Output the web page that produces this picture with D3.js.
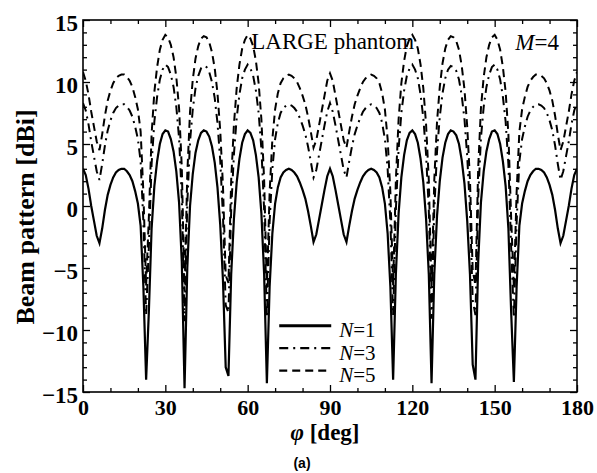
<!DOCTYPE html>
<html>
<head>
<meta charset="utf-8">
<script src="https://cdn.jsdelivr.net/npm/d3@7"></script>
<style>
  body { margin: 0; background: #fff; }
  svg { display: block; }
  .tick text { font-family: "Liberation Serif", serif; font-weight: bold; font-size: 23px; fill: #000; }
  .xaxis .tick text { font-size: 22px; }
  .domain { display: none; }
  .tick line { stroke: #000; stroke-width: 1.3; }
</style>
</head>
<body>
<div id="chart"></div>
<script>
// angle grid (deg), 1 deg steps
var phi = d3.range(0, 181);

var n1 = [3.0,2.5,1.4,0.0,-1.2,-2.4,-3.0,-1.8,-0.3,0.9,
  1.7,2.3,2.7,2.9,3.0,3.0,2.8,2.5,2.0,1.2,
  0.2,-1.6,-6.5,-14.0,-8.5,-1.8,1.6,3.6,5.0,5.8,
  6.1,6.0,5.4,4.4,2.8,0.3,-4.5,-14.7,-5.0,0.0,
  2.6,4.3,5.3,5.9,6.1,6.0,5.6,4.8,3.5,1.5,
  -1.5,-6.0,-13.0,-13.7,-5.5,-1.0,1.9,3.8,5.1,5.8,
  6.1,5.9,5.3,4.1,2.3,-0.6,-5.5,-14.3,-6.5,-2.2,
  0.2,1.5,2.3,2.7,2.9,3.0,2.9,2.7,2.4,1.9,
  1.3,0.6,-0.4,-1.6,-2.9,-2.3,-1.1,0.1,1.3,2.4,
  3.0,
  2.4,1.3,0.1,-1.1,-2.3,-2.9,-1.6,-0.4,0.6,
  1.3,1.9,2.4,2.7,2.9,3.0,2.9,2.7,2.3,1.5,
  0.2,-2.2,-6.5,-14.0,-5.5,-0.6,2.3,4.1,5.3,5.9,
  6.1,5.8,5.1,3.8,1.9,-1.0,-5.5,-14.3,-5.5,-0.8,
  2.0,3.9,5.1,5.8,6.1,6.0,5.7,5.0,3.7,1.8,
  -1.2,-5.5,-12.8,-14.0,-4.5,0.3,2.8,4.4,5.4,6.0,
  6.1,5.8,5.0,3.6,1.6,-1.8,-8.5,-14.2,-6.5,-1.6,
  0.2,1.2,2.0,2.5,2.8,3.0,3.0,2.9,2.7,2.3,
  1.7,0.9,-0.3,-1.8,-3.0,-2.4,-1.2,0.0,1.4,2.5,
  3.0];

var n3 = [8.3,7.7,6.6,5.2,4.0,2.8,2.1,3.4,4.9,6.1,
  6.9,7.5,7.9,8.1,8.2,8.2,8.0,7.7,7.2,6.4,
  5.4,3.6,-1.3,-8.8,-3.3,3.4,6.8,8.8,10.2,11.0,
  11.4,11.2,10.6,9.6,8.0,5.5,0.7,-9.3,0.2,5.2,
  7.8,9.5,10.5,11.1,11.3,11.2,10.8,10.0,8.7,6.7,
  3.7,-0.8,-8.0,-8.6,-0.3,4.2,7.1,9.0,10.3,11.0,
  11.4,11.1,10.5,9.3,7.5,4.6,-0.3,-9.0,-1.3,3.0,
  5.4,6.7,7.5,7.9,8.1,8.2,8.1,7.9,7.6,7.1,
  6.5,5.8,4.8,3.6,2.3,2.9,4.1,5.3,6.5,7.6,
  8.3,
  7.6,6.5,5.3,4.1,2.9,2.3,3.6,4.8,5.8,
  6.5,7.1,7.6,7.9,8.1,8.2,8.1,7.9,7.5,6.7,
  5.4,3.0,-1.3,-8.8,-0.3,4.6,7.5,9.3,10.5,11.1,
  11.4,11.0,10.3,9.0,7.1,4.2,-0.3,-9.1,-0.3,4.4,
  7.2,9.1,10.3,11.0,11.3,11.2,10.9,10.2,8.9,7.0,
  4.0,-0.3,-7.6,-8.8,0.7,5.5,8.0,9.6,10.6,11.2,
  11.4,11.0,10.2,8.8,6.8,3.4,-3.3,-9.0,-1.3,3.6,
  5.4,6.4,7.2,7.7,8.0,8.2,8.2,8.1,7.9,7.5,
  6.9,6.1,4.9,3.4,2.1,2.8,4.0,5.2,6.6,7.7,
  8.3];

var n5 = [10.8,10.1,9.0,7.6,6.4,5.2,4.5,5.8,7.3,8.5,
  9.3,9.9,10.3,10.5,10.6,10.6,10.4,10.1,9.6,8.8,
  7.8,6.0,1.1,-6.4,-0.9,5.8,9.2,11.2,12.6,13.4,
  13.8,13.6,13.0,12.0,10.4,7.9,3.1,-6.9,2.6,7.6,
  10.2,11.9,12.9,13.5,13.7,13.6,13.2,12.4,11.1,9.1,
  6.1,1.6,-5.6,-6.2,2.1,6.6,9.5,11.4,12.7,13.4,
  13.8,13.5,12.9,11.7,9.9,7.0,2.1,-6.6,1.1,5.4,
  7.8,9.1,9.9,10.3,10.5,10.6,10.5,10.3,10.0,9.5,
  8.9,8.2,7.2,6.0,4.7,5.3,6.5,7.7,8.9,10.1,
  10.7,
  10.1,8.9,7.7,6.5,5.3,4.7,6.0,7.2,8.2,
  8.9,9.5,10.0,10.3,10.5,10.6,10.5,10.3,9.9,9.1,
  7.8,5.4,1.1,-6.4,2.1,7.0,9.9,11.7,12.9,13.5,
  13.8,13.4,12.7,11.4,9.5,6.6,2.1,-6.7,2.1,6.8,
  9.6,11.5,12.7,13.4,13.7,13.6,13.3,12.6,11.3,9.4,
  6.4,2.1,-5.2,-6.4,3.1,7.9,10.4,12.0,13.0,13.6,
  13.8,13.4,12.6,11.2,9.2,5.8,-0.9,-6.6,1.1,6.0,
  7.8,8.8,9.6,10.1,10.4,10.6,10.6,10.5,10.3,9.9,
  9.3,8.5,7.3,5.8,4.5,5.2,6.4,7.6,9.0,10.1,
  10.8];

var seriesNames = ["N=1", "N=3", "N=5"];
var dashes = [null, "9,5,2,5", "8,5"];
var xTicks = [0, 30, 60, 90, 120, 150, 180];
var yTicks = [-15, -10, -5, 0, 5, 10, 15];

var W = 597, H = 473;
var margin = {top: 20, right: 20, bottom: 81, left: 83},
    width = W - margin.left - margin.right,
    height = H - margin.top - margin.bottom;

var svg = d3.select("#chart").append("svg")
    .attr("width", W)
    .attr("height", H);

var g = svg.append("g")
    .attr("transform", "translate(" + margin.left + "," + margin.top + ")");

var x = d3.scaleLinear().domain([0, 180]).range([0, width]);
var y = d3.scaleLinear().domain([-15, 15]).range([height, 0]);

g.append("clipPath").attr("id", "clip")
  .append("rect").attr("width", width).attr("height", height);

var line = d3.line()
    .x(function(d) { return x(d[0]); })
    .y(function(d) { return y(d[1]); });

var allSeries = [n1, n3, n5];
allSeries.forEach(function(vals, i) {
    g.append("path")
        .datum(phi.map(function(p, k) { return [p, vals[k]]; }))
        .attr("clip-path", "url(#clip)")
        .attr("fill", "none")
        .attr("stroke", "#000")
        .attr("stroke-width", i === 0 ? 2.2 : 2)
        .attr("stroke-linejoin", "miter")
        .attr("stroke-dasharray", dashes[i])
        .attr("d", line);
});

// axes, ticks pointing inward
var xMinor = d3.range(0, 181, 10).filter(function(v) { return v % 30 !== 0; });
var yMinor = d3.range(-15, 16, 1).filter(function(v) { return v % 5 !== 0; });

g.append("g").attr("class", "xaxis").attr("transform", "translate(0," + height + ")")
    .call(d3.axisBottom(x).tickValues(xTicks).tickSize(-7).tickPadding(7).tickFormat(d3.format("d")));
g.append("g").attr("transform", "translate(0," + height + ")")
    .call(d3.axisBottom(x).tickValues(xMinor).tickSize(-4).tickFormat(""));
g.append("g")
    .call(d3.axisTop(x).tickValues(xTicks).tickSize(-7).tickFormat(""));
g.append("g")
    .call(d3.axisTop(x).tickValues(xMinor).tickSize(-4).tickFormat(""));

g.append("g")
    .call(d3.axisLeft(y).tickValues(yTicks).tickSize(-7).tickPadding(5).tickFormat(d3.format("d")))
    .selectAll("text").attr("dy", "0.45em");
g.append("g")
    .call(d3.axisLeft(y).tickValues(yMinor).tickSize(-4).tickFormat(""));
g.append("g").attr("transform", "translate(" + width + ",0)")
    .call(d3.axisRight(y).tickValues(yTicks).tickSize(-7).tickFormat(""));
g.append("g").attr("transform", "translate(" + width + ",0)")
    .call(d3.axisRight(y).tickValues(yMinor).tickSize(-4).tickFormat(""));

g.append("rect")
    .attr("width", width).attr("height", height)
    .attr("fill", "none").attr("stroke", "#000").attr("stroke-width", 1.6);

// annotations
var serif = "'Liberation Serif', 'Times New Roman', serif";
g.append("text")
    .attr("x", x(61.3)).attr("y", y(12.66))
    .attr("font-family", serif).attr("font-size", 23)
    .text("LARGE phantom");

var mt = g.append("text")
    .attr("x", x(157.5)).attr("y", y(12.6))
    .attr("font-family", serif).attr("font-size", 23);
mt.append("tspan").attr("font-style", "italic").text("M");
mt.append("tspan").text("=4");

// legend
var legend = g.append("g").attr("transform", "translate(" + x(71.5) + "," + y(-9.65) + ")");
seriesNames.forEach(function(name, i) {
    var row = legend.append("g").attr("transform", "translate(0," + (i * 22.5) + ")");
    row.append("line")
        .attr("x1", 0).attr("x2", 52)
        .attr("stroke", "#000")
        .attr("stroke-width", i === 0 ? 3 : 2.4)
        .attr("stroke-dasharray", dashes[i]);
    var t = row.append("text")
        .attr("x", 60).attr("y", 11.5)
        .attr("font-family", serif).attr("font-size", 21);
    var parts = name.split("=");
    t.append("tspan").attr("font-style", "italic").text(parts[0]);
    t.append("tspan").text("=" + parts[1]);
});

// axis titles
svg.append("text")
    .attr("transform", "translate(34,217) rotate(-90)")
    .attr("text-anchor", "middle")
    .attr("font-family", serif).attr("font-weight", "bold").attr("font-size", 26)
    .text("Beam pattern [dBi]");

var xt = svg.append("text")
    .attr("x", margin.left + width / 2 - 5).attr("y", 440)
    .attr("text-anchor", "middle")
    .attr("font-family", serif).attr("font-weight", "bold").attr("font-size", 23);
xt.append("tspan").attr("font-style", "italic").text("φ");
xt.append("tspan").text(" [deg]");

svg.append("text")
    .attr("x", 302).attr("y", 468)
    .attr("text-anchor", "middle")
    .attr("font-family", "'Liberation Sans', Arial, sans-serif")
    .attr("font-weight", "bold").attr("font-size", 14)
    .text("(a)");
</script>
</body>
</html>
